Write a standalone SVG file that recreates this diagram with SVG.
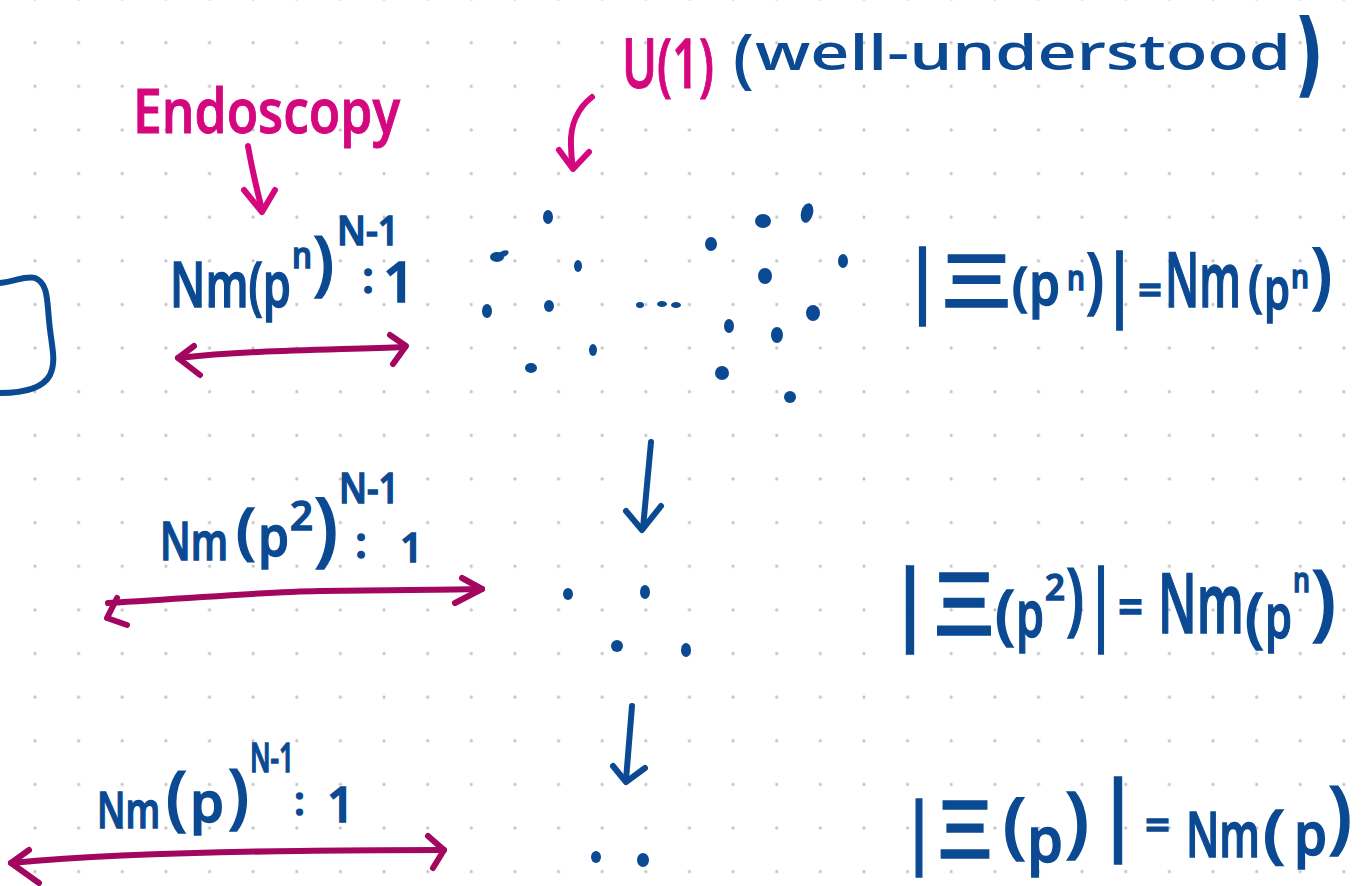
<svg xmlns="http://www.w3.org/2000/svg" width="1363" height="886" viewBox="0 0 1363 886">
<style>
.b{fill:#0b4a92;stroke:#0b4a92;stroke-width:1.5;font-family:"Open Sans","Noto Sans",sans-serif;font-weight:600}
.bt{fill:#0b4a92;font-family:"Open Sans","Noto Sans",sans-serif;font-weight:600}
.p{fill:#d4077f;stroke:#d4077f;stroke-width:1;font-family:"Open Sans","Noto Sans",sans-serif;font-weight:600}
.ln{fill:none;stroke-width:6;stroke-linecap:round;stroke-linejoin:round}
.mag{stroke:#a2065e}
.pk{stroke:#d4077f}
.bl{stroke:#0b4a92}
.dot{fill:#0b4a92}
</style>
<defs>
<pattern id="grid" patternUnits="userSpaceOnUse" x="13.2" y="-22.7" width="43.63" height="43.63">
<circle cx="21.8" cy="21.8" r="1.6" fill="#c2c2c2"/>
</pattern>
</defs>
<rect width="1363" height="886" fill="#ffffff"/>
<rect width="1363" height="886" fill="url(#grid)"/>

<g id="bracket">
<path class="ln bl" d="M0,283 C15,282 25,275 35,278 C48,283 47,300 49,320 C51,345 57,360 50,375 C42,390 20,393 0,393"/>
</g>

<g id="endoscopy">
<text class="p" x="133" y="133" font-size="62" textLength="267" lengthAdjust="spacingAndGlyphs">Endoscopy</text>
</g>

<g id="u1">
<text class="p" x="622" y="88" font-size="68" textLength="92" lengthAdjust="spacingAndGlyphs">U(1)</text>
<text class="bt"><tspan x="733" y="81" font-size="66">(</tspan><tspan x="755" y="70" font-size="48" textLength="536" lengthAdjust="spacingAndGlyphs">well-understood</tspan><tspan x="1294" y="86" font-size="92" font-family="'DejaVu Sans',sans-serif" font-weight="700" textLength="30" lengthAdjust="spacingAndGlyphs">)</tspan></text>
</g>

<g id="label-n">
<text class="b"><tspan x="170" y="307" font-size="64" textLength="121" lengthAdjust="spacingAndGlyphs">Nm(p</tspan><tspan x="292" y="268" font-size="36" textLength="20" lengthAdjust="spacingAndGlyphs">n</tspan><tspan x="313" y="287" font-size="70" textLength="21" lengthAdjust="spacingAndGlyphs">)</tspan><tspan x="337" y="245" font-size="40" textLength="62" lengthAdjust="spacingAndGlyphs">N-1</tspan><tspan x="362" y="293" font-size="44">:</tspan><tspan x="383" y="302" font-size="56">1</tspan></text>
</g>

<g id="label-2">
<text class="b"><tspan x="160" y="560" font-size="52" textLength="68" lengthAdjust="spacingAndGlyphs">Nm</tspan><tspan x="236" y="552" font-size="62">(</tspan><tspan x="258" y="556" font-size="56" textLength="31" lengthAdjust="spacingAndGlyphs">p</tspan><tspan x="290" y="530" font-size="40" textLength="23" lengthAdjust="spacingAndGlyphs">2</tspan><tspan x="314" y="556" font-size="82" textLength="24" lengthAdjust="spacingAndGlyphs">)</tspan><tspan x="339" y="503" font-size="42" textLength="60" lengthAdjust="spacingAndGlyphs">N-1</tspan><tspan x="355" y="558" font-size="44">:</tspan><tspan x="400" y="562" font-size="40">1</tspan></text>
</g>

<g id="label-1">
<text class="b"><tspan x="97" y="828" font-size="50" textLength="63" lengthAdjust="spacingAndGlyphs">Nm</tspan><tspan x="166" y="822" font-size="70" textLength="21" lengthAdjust="spacingAndGlyphs">(</tspan><tspan x="190" y="822" font-size="56" textLength="34" lengthAdjust="spacingAndGlyphs">p</tspan><tspan x="228" y="820" font-size="70" textLength="21" lengthAdjust="spacingAndGlyphs">)</tspan><tspan x="250" y="772" font-size="40" textLength="44" lengthAdjust="spacingAndGlyphs">N-1</tspan><tspan x="294" y="815" font-size="40">:</tspan><tspan x="327" y="822" font-size="48">1</tspan></text>
</g>

<g id="eq-n">
<text class="b"><tspan x="904" y="307" font-size="80" textLength="37" lengthAdjust="spacingAndGlyphs">|</tspan><tspan x="942" y="307" font-size="72" textLength="69" lengthAdjust="spacingAndGlyphs">Ξ</tspan><tspan x="1012" y="305" font-size="52" textLength="16" lengthAdjust="spacingAndGlyphs">(</tspan><tspan x="1029" y="305" font-size="60" textLength="31" lengthAdjust="spacingAndGlyphs">p</tspan><tspan x="1067" y="290" font-size="34" textLength="18" lengthAdjust="spacingAndGlyphs">n</tspan><tspan x="1086" y="305" font-size="72" textLength="18" lengthAdjust="spacingAndGlyphs">)</tspan><tspan x="1102" y="311" font-size="80" textLength="35" lengthAdjust="spacingAndGlyphs">|</tspan><tspan x="1138" y="305" font-size="44" textLength="24" lengthAdjust="spacingAndGlyphs">=</tspan><tspan x="1165" y="307" font-size="76" textLength="76" lengthAdjust="spacingAndGlyphs">Nm</tspan><tspan x="1248" y="305" font-size="56" textLength="15" lengthAdjust="spacingAndGlyphs">(</tspan><tspan x="1264" y="309" font-size="58" textLength="26" lengthAdjust="spacingAndGlyphs">p</tspan><tspan x="1291" y="288" font-size="32" textLength="18" lengthAdjust="spacingAndGlyphs">n</tspan><tspan x="1311" y="300" font-size="72" textLength="21" lengthAdjust="spacingAndGlyphs">)</tspan></text>
</g>

<g id="eq-2">
<text class="b"><tspan x="888" y="633" font-size="88" textLength="44" lengthAdjust="spacingAndGlyphs">|</tspan><tspan x="934" y="635" font-size="86" textLength="60" lengthAdjust="spacingAndGlyphs">Ξ</tspan><tspan x="995" y="637" font-size="66" textLength="20" lengthAdjust="spacingAndGlyphs">(</tspan><tspan x="1016" y="637" font-size="66" textLength="28" lengthAdjust="spacingAndGlyphs">p</tspan><tspan x="1045" y="600" font-size="36" textLength="20" lengthAdjust="spacingAndGlyphs">2</tspan><tspan x="1066" y="625" font-size="80" textLength="18" lengthAdjust="spacingAndGlyphs">)</tspan><tspan x="1085" y="633" font-size="88" textLength="32" lengthAdjust="spacingAndGlyphs">|</tspan><tspan x="1118" y="625" font-size="50" textLength="25" lengthAdjust="spacingAndGlyphs">=</tspan><tspan x="1158" y="633" font-size="84" textLength="86" lengthAdjust="spacingAndGlyphs">Nm</tspan><tspan x="1245" y="640" font-size="66" textLength="19" lengthAdjust="spacingAndGlyphs">(</tspan><tspan x="1265" y="638" font-size="62" textLength="27" lengthAdjust="spacingAndGlyphs">p</tspan><tspan x="1293" y="592" font-size="34" textLength="17" lengthAdjust="spacingAndGlyphs">n</tspan><tspan x="1311" y="630" font-size="84" textLength="25" lengthAdjust="spacingAndGlyphs">)</tspan></text>
</g>

<g id="eq-1">
<text class="b"><tspan x="901" y="858" font-size="78" textLength="36" lengthAdjust="spacingAndGlyphs">|</tspan><tspan x="938" y="858" font-size="80" textLength="54" lengthAdjust="spacingAndGlyphs">Ξ</tspan><tspan x="1003" y="850" font-size="72" textLength="23" lengthAdjust="spacingAndGlyphs">(</tspan><tspan x="1027" y="862" font-size="64" textLength="36" lengthAdjust="spacingAndGlyphs">p</tspan><tspan x="1065" y="848" font-size="78" textLength="24" lengthAdjust="spacingAndGlyphs">)</tspan><tspan x="1096" y="843" font-size="86" textLength="44" lengthAdjust="spacingAndGlyphs">|</tspan><tspan x="1145" y="840" font-size="44" textLength="25" lengthAdjust="spacingAndGlyphs">=</tspan><tspan x="1186" y="857" font-size="64" textLength="74" lengthAdjust="spacingAndGlyphs">Nm</tspan><tspan x="1263" y="855" font-size="64" textLength="22" lengthAdjust="spacingAndGlyphs">(</tspan><tspan x="1294" y="855" font-size="60" textLength="33" lengthAdjust="spacingAndGlyphs">p</tspan><tspan x="1328" y="843" font-size="80" textLength="24" lengthAdjust="spacingAndGlyphs">)</tspan></text>
</g>

<g id="points-n">
<ellipse class="dot" cx="548" cy="217" rx="5" ry="7"/>
<ellipse class="dot" cx="497" cy="257" rx="7" ry="5"/>
<ellipse class="dot" cx="503" cy="254" rx="6" ry="3" transform="rotate(-25 503 254)"/>
<ellipse class="dot" cx="578" cy="266" rx="4" ry="6"/>
<ellipse class="dot" cx="487" cy="311" rx="5" ry="7"/>
<ellipse class="dot" cx="549" cy="306" rx="5" ry="6"/>
<ellipse class="dot" cx="593" cy="350" rx="4" ry="6"/>
<ellipse class="dot" cx="531" cy="368" rx="6" ry="5"/>
<ellipse class="dot" cx="640" cy="305" rx="4" ry="3"/>
<ellipse class="dot" cx="662" cy="304" rx="5" ry="3"/>
<ellipse class="dot" cx="676" cy="305" rx="5" ry="3"/>
<ellipse class="dot" cx="711" cy="244" rx="6" ry="7"/>
<ellipse class="dot" cx="763" cy="221" rx="8" ry="7"/>
<ellipse class="dot" cx="807" cy="213" rx="6" ry="10" transform="rotate(15 807 213)"/>
<ellipse class="dot" cx="843" cy="261" rx="5" ry="7"/>
<ellipse class="dot" cx="765" cy="276" rx="7" ry="8"/>
<ellipse class="dot" cx="813" cy="313" rx="7" ry="8"/>
<ellipse class="dot" cx="729" cy="326" rx="5" ry="7"/>
<ellipse class="dot" cx="777" cy="335" rx="6" ry="8"/>
<ellipse class="dot" cx="722" cy="373" rx="7" ry="7"/>
<ellipse class="dot" cx="790" cy="397" rx="6" ry="6"/>
</g>

<g id="points-2">
<ellipse class="dot" cx="568" cy="594" rx="5" ry="6"/>
<ellipse class="dot" cx="645" cy="592" rx="5" ry="7"/>
<ellipse class="dot" cx="617" cy="646" rx="6" ry="6"/>
<ellipse class="dot" cx="686" cy="650" rx="5" ry="7"/>
</g>

<g id="points-1">
<ellipse class="dot" cx="596" cy="857" rx="5" ry="6"/>
<ellipse class="dot" cx="643" cy="860" rx="6" ry="7"/>
</g>

<g id="connectors">
<path class="ln pk" d="M248,146 C252,170 257,190 262,210"/>
<path class="ln pk" d="M244,190 L262,212 L275,190"/>
<path class="ln pk" d="M592,97 C578,108 570,125 571,145 C571,155 572,162 573,168"/>
<path class="ln pk" d="M559,150 L573,169 L589,152"/>
<path class="ln mag" d="M178,358 C250,350 330,350 405,347"/>
<path class="ln mag" d="M194,346 L178,358 L200,375"/>
<path class="ln mag" d="M390,335 L406,346 L393,364"/>
<path class="ln mag" d="M108,603 C200,598 260,592 320,591 C380,590 430,590 482,589"/>
<path class="ln mag" d="M117,598 L107,618 L127,625"/>
<path class="ln mag" d="M462,578 L482,589 L455,603"/>
<path class="ln mag" d="M11,863 C100,855 200,852 300,851 C350,850 400,850 444,850"/>
<path class="ln mag" d="M29,850 L11,863 L39,883"/>
<path class="ln mag" d="M428,836 L444,850 L433,868"/>
<path class="ln bl" d="M651,442 L643,528"/>
<path class="ln bl" d="M626,511 L642,530 L661,506"/>
<path class="ln bl" d="M632,706 L626,780"/>
<path class="ln bl" d="M613,766 L626,782 L645,768"/>
</g>
</svg>
